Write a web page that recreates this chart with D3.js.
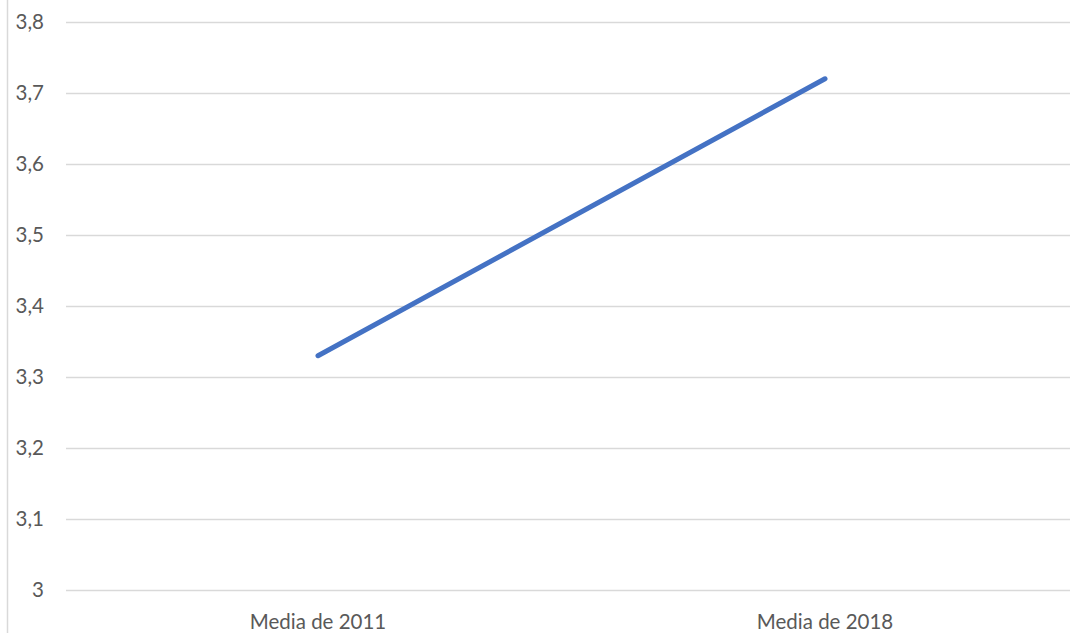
<!DOCTYPE html>
<html>
<head>
<meta charset="utf-8">
<script src="https://cdn.jsdelivr.net/npm/d3@7"></script>
<style>
  body { margin: 0; background: #fff; }
  svg { display: block; }
  text { font-family: Lato, "Open Sans", "Liberation Sans", sans-serif; fill: #595959; }
</style>
</head>
<body>
<svg id="chart" width="1070" height="633"></svg>
<script>
const categories = ["Media de 2011", "Media de 2018"];
const values = [3.33, 3.72];
const yTicks = [3, 3.1, 3.2, 3.3, 3.4, 3.5, 3.6, 3.7, 3.8];

const svg = d3.select("#chart");
const W = 1070, H = 633;

// left border of chart area
svg.append("line")
  .attr("x1", 7.5).attr("x2", 7.5).attr("y1", 0).attr("y2", H)
  .attr("stroke", "#d9d9d9").attr("stroke-width", 1.5);

const y = d3.scaleLinear().domain([3, 3.8]).range([590, 22]);
const x = d3.scalePoint().domain(categories).range([64.5, 1078.5]).padding(0.5);

const fmt = d => d3.format(".1~f")(d).replace(".", ",");

// gridlines
svg.append("g").selectAll("line").data(yTicks).join("line")
  .attr("x1", 66).attr("x2", W)
  .attr("y1", d => Math.round(y(d)) + 0.5).attr("y2", d => Math.round(y(d)) + 0.5)
  .attr("stroke", "#d9d9d9").attr("stroke-width", 1.3);

// y tick labels
svg.append("g").selectAll("text").data(yTicks).join("text")
  .attr("x", 44).attr("y", d => y(d))
  .attr("dy", "0.35em")
  .attr("text-anchor", "end")
  .attr("font-size", 20.5)
  .text(fmt);

// x labels
svg.append("g").selectAll("text").data(categories).join("text")
  .attr("x", d => x(d)).attr("y", 622)
  .attr("dy", "0.35em")
  .attr("text-anchor", "middle")
  .attr("font-size", 20.5)
  .text(d => d);

// line
const line = d3.line().x((d, i) => x(categories[i])).y(d => y(d));
svg.append("path")
  .datum(values)
  .attr("d", line)
  .attr("fill", "none")
  .attr("stroke", "#4472C4")
  .attr("stroke-width", 5)
  .attr("stroke-linecap", "round");
</script>
</body>
</html>
